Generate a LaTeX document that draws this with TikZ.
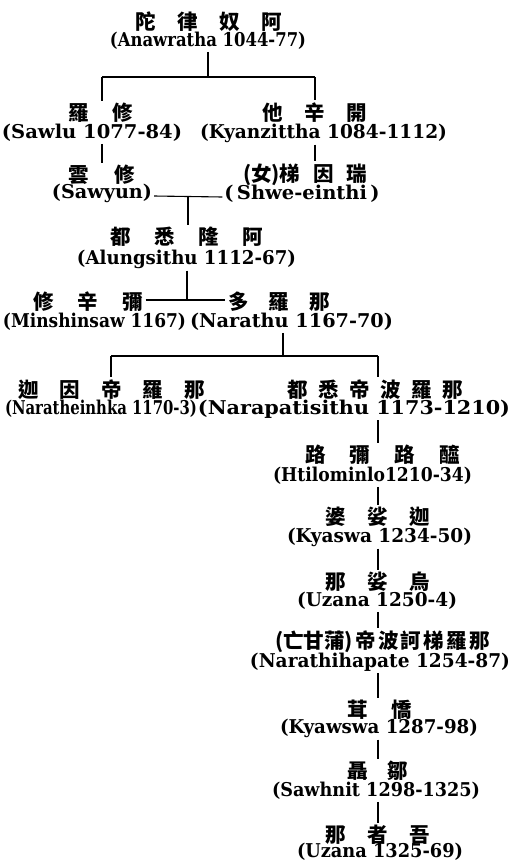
\documentclass[tikz,border=0pt]{standalone}
\usepackage{fontspec}
\usepackage{graphicx}
\setmainfont{DejaVu Serif}
\newfontfamily\cjk{Noto Sans CJK TC}
\newcommand\fitw[2]{\resizebox{#1pt}{\height}{#2}}
\newcommand\spread[2]{\makebox[#1pt][s]{#2}}
\tikzset{
  cn/.style={inner sep=2.5pt, font=\cjk\bfseries\fontsize{20.5}{20.5}\selectfont},
  en/.style={inner sep=2pt, font=\bfseries\fontsize{19}{19}\selectfont},
  link/.style={line width=1.1pt}
}
\begin{document}
\begin{tikzpicture}[x=1pt,y=-1pt]
\path[use as bounding box, fill=white] (0,0) rectangle (515,863);
% generation 1
\node[cn] (anaC) at (208.5,22) {\spread{147}{陀\hfill 律\hfill 奴\hfill 阿}};
\node[en] (anaE) at (208,41) {\fitw{196}{(Anawratha 1044-77)}};
% generation 2
\node[cn] (sawluC) at (100.5,113) {\spread{65}{羅\hfill 修}};
\node[en] (sawluE) at (92,133) {\fitw{180}{(Sawlu 1077-84)}};
\node[cn] (kyanC) at (314.5,113) {\spread{105}{他\hfill 辛\hfill 開}};
\node[en] (kyanE) at (323.5,133) {\fitw{247}{(Kyanzittha 1084-1112)}};
% generation 3
\node[cn] (sawyunC) at (101.5,175) {\spread{67}{雲\hfill 修}};
\node[en] (sawyunE) at (102,193) {\fitw{100}{(Sawyun)}};
\node[cn] (shweC) at (305,175) {\spread{124}{(女)梯\hfill 因\hfill 瑞}};
\node[en] (shweE) at (302,194) {\fitw{155}{(\,Shwe-einthi\,)}};
% generation 4
\node[cn] (alungC) at (186.5,237) {\spread{153}{都\hfill 悉\hfill 隆\hfill 阿}};
\node[en] (alungE) at (186.5,259) {\fitw{219}{(Alungsithu 1112-67)}};
% generation 5
\node[cn] (minC) at (88,302) {\spread{110}{修\hfill 辛\hfill 彌}};
\node[en] (minE) at (94.5,322) {\fitw{183}{(Minshinsaw 1167)}};
\node[cn] (narC) at (279,302) {\spread{102}{多\hfill 羅\hfill 那}};
\node[en] (narE) at (291.5,322) {\fitw{203}{(Narathu 1167-70)}};
% generation 6
\node[cn] (naraC) at (111.5,390) {\spread{187}{迦\hfill 因\hfill 帝\hfill 羅\hfill 那}};
\node[en] (naraE) at (101,409) {\fitw{192}{(Naratheinhka 1170-3)}};
\node[cn] (napaC) at (375,390) {\spread{176}{都\hfill 悉\hfill 帝\hfill 波\hfill 羅\hfill 那}};
\node[en] (napaE) at (354,409) {\fitw{312}{(Narapatisithu 1173-1210)}};
% chain
\node[cn] (htiC) at (382.5,455) {\spread{155}{路\hfill 彌\hfill 路\hfill 醯}};
\node[en] (htiE) at (372.5,476) {\fitw{199}{(Htilominlo1210-34)}};
\node[cn] (kyaswaC) at (377.5,517) {\spread{105}{婆\hfill 娑\hfill 迦}};
\node[en] (kyaswaE) at (379.5,537) {\fitw{185}{(Kyaswa 1234-50)}};
\node[cn] (uzC) at (377.5,582) {\spread{105}{那\hfill 娑\hfill 烏}};
\node[en] (uzE) at (377,601) {\fitw{160}{(Uzana 1250-4)}};
\node[cn] (narhC) at (382.5,642) {\spread{215}{(亡甘蒲)\hfill 帝\hfill 波\hfill 訶\hfill 梯\hfill 羅\hfill 那}};
\node[en] (narhE) at (380,662) {\fitw{260}{(Narathihapate 1254-87)}};
\node[cn] (kyawC) at (379.5,710) {\spread{65}{茸\hfill 憍}};
\node[en] (kyawE) at (379,728) {\fitw{198}{(Kyawswa 1287-98)}};
\node[cn] (sawhC) at (377.5,771) {\spread{61}{聶\hfill 鄒}};
\node[en] (sawhE) at (376,791) {\fitw{208}{(Sawhnit 1298-1325)}};
\node[cn] (uz2C) at (377.5,835) {\spread{105}{那\hfill 者\hfill 吾}};
\node[en] (uz2E) at (380,852) {\fitw{166}{(Uzana 1325-69)}};
% connectors
\coordinate (j1) at (208,77);
\coordinate (jL) at (102,77);
\coordinate (jR) at (315,77);
\draw[link] (anaE.south -| j1) -- (j1);
\draw[link] (jL) -- (jR);
\draw[link] (jL) -- (jL |- sawluC.north);
\draw[link] (jR) -- (jR |- kyanC.north);
\draw[link] (sawluE.south -| jL) -- (sawyunC.north -| jL);
\draw[link] (kyanE.south -| jR) -- (shweC.north -| jR);
\draw[link] ([yshift=-3pt]sawyunE.east) -- ([yshift=-3pt]shweE.west);
\coordinate (m1) at (188,197);
\draw[link] (m1) -- (m1 |- alungC.north);
\coordinate (m2) at (187,300);
\draw[link] (alungE.south -| m2) -- (m2);
\draw[link] (minC.east |- m2) -- (narC.west |- m2);
\coordinate (k1) at (283,356);
\coordinate (kL) at (111,356);
\coordinate (kR) at (378,356);
\draw[link] (narE.south -| k1) -- (k1);
\draw[link] (kL) -- (kR);
\draw[link] (kL) -- (kL |- naraC.north);
\draw[link] (kR) -- (kR |- napaC.north);
\coordinate (cx) at (378,0);
\draw[link] (napaE.south -| cx) -- (htiC.north -| cx);
\draw[link] (htiE.south -| cx) -- (kyaswaC.north -| cx);
\draw[link] (kyaswaE.south -| cx) -- (uzC.north -| cx);
\draw[link] (uzE.south -| cx) -- (narhC.north -| cx);
\draw[link] (narhE.south -| cx) -- (kyawC.north -| cx);
\draw[link] (kyawE.south -| cx) -- (sawhC.north -| cx);
\draw[link] (sawhE.south -| cx) -- (uz2C.north -| cx);
\end{tikzpicture}
\end{document}
